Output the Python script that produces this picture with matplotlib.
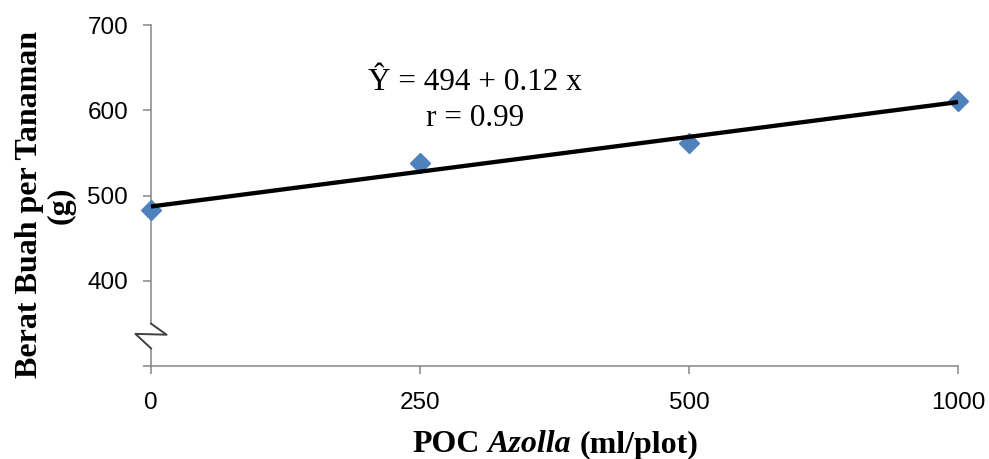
import numpy as np
import matplotlib
matplotlib.use("Agg")
import matplotlib.pyplot as plt
from matplotlib.patches import Rectangle

# data
doses = ['0', '250', '500', '1000']
berat = [483, 538, 562, 611]
y_ticks = [300, 400, 500, 600, 700]
y_ticklabels = ['', '400', '500', '600', '700']

eq_text = u"\u0176 = 494 + 0.12 x"
r_text = "r = 0.99"

pos = np.arange(len(doses))
slope, intercept = np.polyfit(pos, berat, 1)
trend = slope * pos + intercept

fig = plt.figure(figsize=(9.89, 4.59), dpi=100)
ax = fig.add_axes([151 / 989, 0.2020, (958 - 151) / 989, 0.9455 - 0.2020])

ax.plot(pos, berat, linestyle='none', marker='D', markersize=10.5,
        color='#4F81BD', clip_on=False, zorder=3)
ax.plot([pos[0], pos[-1]], [trend[0], trend[-1]], color='black',
        linewidth=3.1, solid_capstyle='butt', clip_on=False, zorder=4)

ax.set_xlim(0, 3)
ax.set_ylim(300, 700)
ax.set_xticks(pos)
ax.set_xticklabels(doses)
ax.set_yticks(y_ticks)
ax.set_yticklabels(y_ticklabels)

for s in ['top', 'right']:
    ax.spines[s].set_visible(False)
for s in ['left', 'bottom']:
    ax.spines[s].set_color('#868686')
    ax.spines[s].set_linewidth(1.1)

ax.tick_params(axis='both', colors='#868686', width=1.1, length=5.5,
               labelcolor='black')
ax.tick_params(axis='x', pad=13)
ax.tick_params(axis='y', pad=11)
for lab in ax.get_xticklabels() + ax.get_yticklabels():
    lab.set_fontfamily('Liberation Sans')
    lab.set_fontsize(17.5)

# axis break marker
ax.add_patch(Rectangle((-0.11, 322), 0.17, 29, facecolor='white',
                       edgecolor='none', clip_on=False, zorder=5,
                       transform=ax.transData))
zx = [0.0, 0.058, -0.058, 0.0]
zy = [350, 337, 338, 321]
ax.plot(zx, zy, color='#404040', linewidth=1.4, clip_on=False, zorder=6)

# equation
fig.text(475 / 989, 1 - 83 / 459, eq_text, ha='center', va='center',
         fontsize=22.5, family='Liberation Serif')
fig.text(475 / 989, 1 - 118 / 459, r_text, ha='center', va='center',
         fontsize=22.5, family='Liberation Serif')

# axis titles
fig.text(45 / 989, 1 - 205 / 459, 'Berat Buah per Tanaman\n(g)', rotation=90,
         ha='center', va='center', multialignment='center', fontsize=23,
         fontweight='bold', family='Liberation Serif', linespacing=1.12)

t1 = fig.text(412 / 989, 1 - 445 / 459, 'POC', ha='left', va='center',
              fontsize=23, fontweight='bold', family='Liberation Serif')
a2 = ax.annotate('Azolla', xy=(1, 0), xycoords=t1, xytext=(6, 0),
                 textcoords='offset points', ha='left', va='bottom',
                 fontsize=23, fontweight='bold', style='italic',
                 family='Liberation Serif', annotation_clip=False)
ax.annotate('(ml/plot)', xy=(1, 0), xycoords=a2, xytext=(6, 0),
            textcoords='offset points', ha='left', va='bottom',
            fontsize=23, fontweight='bold', family='Liberation Serif',
            annotation_clip=False)

fig.savefig('out.png', dpi=100)
